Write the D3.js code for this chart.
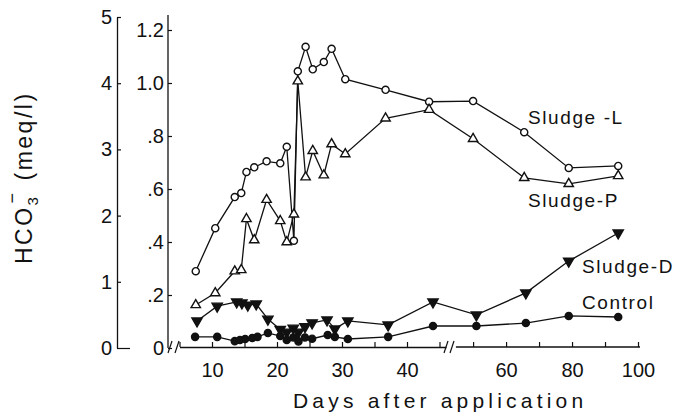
<!DOCTYPE html>
<html>
<head>
<meta charset="utf-8">
<script src="https://cdn.jsdelivr.net/npm/d3@7"></script>
<style>
  html, body { margin: 0; padding: 0; background: #fff; }
  svg { display: block; }
  text { font-family: "Liberation Sans", Arial, sans-serif; fill: #111; }
</style>
</head>
<body>
<svg id="chart" width="677" height="413"></svg>
<script>
// Sampling days (days after application) and HCO3- readings per treatment
const daysLP = [7.5, 10.5, 13.5, 14.5, 15.3, 16.5, 18.4, 20.5, 21.5, 22.6, 23.2, 24.4, 25.5, 27.2, 28.4, 30.5, 36.7, 43.4, 50, 65.5, 79, 94];
const sludgeL = [1.16, 1.81, 2.28, 2.34, 2.66, 2.73, 2.82, 2.79, 3.04, 1.62, 4.18, 4.55, 4.21, 4.32, 4.52, 4.06, 3.90, 3.72, 3.73, 3.26, 2.72, 2.75];
const sludgeP = [0.65, 0.83, 1.16, 1.18, 1.95, 1.63, 2.24, 1.92, 1.60, 2.02, 4.03, 2.58, 2.98, 2.61, 3.08, 2.93, 3.47, 3.60, 3.16, 2.57, 2.48, 2.60];

const daysD = [7.7, 10.8, 13.8, 14.6, 15.5, 16.8, 18.6, 20.5, 21.5, 22.5, 23.3, 24.3, 25.4, 27.7, 28.9, 30.9, 37.1, 44, 51, 66, 79, 94];
const sludgeD = [0.102, 0.158, 0.174, 0.170, 0.162, 0.166, 0.109, 0.070, 0.060, 0.075, 0.060, 0.080, 0.095, 0.106, 0.072, 0.102, 0.087, 0.174, 0.125, 0.208, 0.328, 0.434];

const daysC = [7.4, 10.8, 13.5, 14.3, 15.1, 16.2, 17.0, 18.6, 20.5, 21.5, 22.5, 23.3, 24.3, 25.4, 27.8, 28.9, 30.9, 37.1, 44, 51, 66, 79, 94];
const control = [0.042, 0.042, 0.026, 0.030, 0.034, 0.038, 0.042, 0.057, 0.045, 0.030, 0.040, 0.025, 0.040, 0.035, 0.049, 0.042, 0.034, 0.042, 0.083, 0.083, 0.094, 0.121, 0.117];

// Axis ticks
const outerTicks = [0, 1, 2, 3, 4, 5];
const innerTicks = [0, 0.2, 0.4, 0.6, 0.8, 1.0, 1.2];
const xTicksLeft = [5, 10, 15, 20, 25, 30, 35, 40, 45];
const xTicksRight = [50, 60, 70, 80, 90, 100];
const xLabelsLeft = [10, 20, 30, 40];
const xLabelsRight = [60, 80, 100];

const svg = d3.select("#chart");

// Broken time axis: fine scale up to day 46, compressed scale beyond
const xLeft = d3.scaleLinear().domain([5, 46]).range([179.5, 446]);
const xRight = d3.scaleLinear().domain([43, 100]).range([450, 638]);
const xPos = d => (d <= 46 ? xLeft(d) : xRight(d));

// Two value scales: Sludge-L/P on the outer axis, Sludge-D/Control on the inner one
const yOuter = d3.scaleLinear().domain([0, 5]).range([348, 17]);
const yInner = d3.scaleLinear().domain([0, 1.2]).range([348, 30]);

const axisY = 347;

function styleAxis(g) {
  g.selectAll("path.domain").attr("stroke", "#111").attr("stroke-width", 1.3);
  g.selectAll(".tick line").attr("stroke", "#111").attr("stroke-width", 1.2);
  g.selectAll(".tick text").attr("font-size", 20).attr("fill", "#111")
    .attr("font-family", "Liberation Sans, Arial, sans-serif");
}

// Outer value axis
const gOuter = svg.append("g").attr("transform", "translate(117,0)")
  .call(d3.axisLeft(yOuter).tickValues(outerTicks).tickSize(-4).tickSizeOuter(0)
    .tickPadding(5).tickFormat(d3.format("d")));
styleAxis(gOuter);
gOuter.selectAll(".tick").filter(d => d === 0).select("line").attr("x2", 13);

// Inner value axis
const gInner = svg.append("g").attr("transform", "translate(168,0)")
  .call(d3.axisLeft(yInner).tickValues(innerTicks).tickSize(-4).tickSizeOuter(0)
    .tickPadding(4).tickFormat(d => d === 0 ? "0" : (d === 1 ? "1.0" : d3.format(".1f")(d).replace(/^0/, ""))));
styleAxis(gInner);
gInner.select("path.domain").attr("d", "M0,15V348");

// Time axis, left part
const gXL = svg.append("g").attr("transform", `translate(0,${axisY})`)
  .call(d3.axisBottom(xLeft).tickValues(xTicksLeft).tickSize(-5).tickSizeOuter(0)
    .tickPadding(16).tickFormat(d => xLabelsLeft.includes(d) ? d : ""));
styleAxis(gXL);

// Time axis, right part
const gXR = svg.append("g").attr("transform", `translate(0,${axisY})`)
  .call(d3.axisBottom(xRight).tickValues(xTicksRight).tickSize(-5).tickSizeOuter(0)
    .tickPadding(16).tickFormat(d => xLabelsRight.includes(d) ? d : ""));
styleAxis(gXR);
gXR.select("path.domain").attr("d", `M${xRight(44.8)},0H${xRight(100) + 2}`);

// Axis break marks
const breaks = svg.append("g").attr("stroke", "#111").attr("stroke-width", 1.2).attr("fill", "none");
[[172, 341, 168, 353], [179, 341, 175, 353], [448, 341, 444, 353], [454, 341, 450, 353]].forEach(s => {
  breaks.append("line").attr("x1", s[0]).attr("y1", s[1]).attr("x2", s[2]).attr("y2", s[3]);
});

// Series
const series = [
  { name: "Sludge-L", days: daysLP, values: sludgeL, y: yOuter, shape: "circle", fill: "#fff" },
  { name: "Sludge-P", days: daysLP, values: sludgeP, y: yOuter, shape: "triangle", fill: "#fff" },
  { name: "Sludge-D", days: daysD, values: sludgeD, y: yInner, shape: "down", fill: "#111" },
  { name: "Control", days: daysC, values: control, y: yInner, shape: "circle", fill: "#111" }
];

const symbols = {
  circle: d3.symbol().type(d3.symbolCircle).size(40),
  triangle: d3.symbol().type(d3.symbolTriangle).size(38),
  down: d3.symbol().type(d3.symbolTriangle).size(46)
};

series.forEach(s => {
  const pts = s.days.map((d, i) => [d, s.values[i]]);
  const line = d3.line().x(p => xPos(p[0])).y(p => s.y(p[1]));
  svg.append("path").datum(pts)
    .attr("d", line).attr("fill", "none").attr("stroke", "#111").attr("stroke-width", 1.3);
});

series.forEach(s => {
  const pts = s.days.map((d, i) => [d, s.values[i]]);
  svg.append("g").selectAll("path").data(pts).join("path")
    .attr("d", symbols[s.shape])
    .attr("transform", p => `translate(${xPos(p[0])},${s.y(p[1])})${s.shape === "down" ? " rotate(180)" : ""}`)
    .attr("fill", s.fill).attr("stroke", "#111").attr("stroke-width", 1.4);
});

// Series labels
const labels = [
  { text: "Sludge -L", x: 528, y: 124 },
  { text: "Sludge-P", x: 528, y: 207 },
  { text: "Sludge-D", x: 582, y: 273 },
  { text: "Control", x: 582, y: 309 }
];
svg.append("g").selectAll("text").data(labels).join("text")
  .attr("x", d => d.x).attr("y", d => d.y)
  .attr("font-size", 19).attr("letter-spacing", 1.6)
  .text(d => d.text);

// Axis titles
svg.append("text").attr("x", 293).attr("y", 408)
  .attr("font-size", 21).attr("letter-spacing", 4.2)
  .text("Days after application");

const yTitle = svg.append("text")
  .attr("transform", "translate(32,264) rotate(-90)")
  .attr("font-size", 23).attr("letter-spacing", 2.5);
yTitle.append("tspan").text("HCO");
yTitle.append("tspan").attr("font-size", 15).attr("dy", 6).text("3");
yTitle.append("tspan").attr("font-size", 18).attr("dx", -9).attr("dy", -20).text("\u2212");
yTitle.append("tspan").attr("dy", 14).attr("dx", 10).text("(meq/l)");
</script>
</body>
</html>
